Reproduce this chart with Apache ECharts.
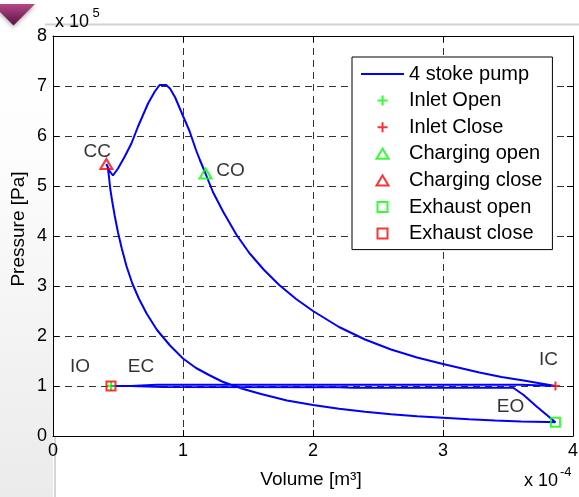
<!DOCTYPE html>
<html>
<head>
<meta charset="utf-8">
<script src="https://cdn.jsdelivr.net/npm/echarts@6/dist/echarts.min.js"></script>
<style>
  html, body { margin: 0; padding: 0; background: #ffffff; }
  #chart { width: 579px; height: 497px; }
</style>
</head>
<body>
<div id="chart"></div>
<script>
// P-V loop of a four-stroke pump.
// Volume in units of 1e-4 m^3, pressure in units of 1e5 Pa.
const xTicks = [0, 1, 2, 3, 4];
const yTicks = [0, 1, 2, 3, 4, 5, 6, 7, 8];

// valve events
const inletOpen     = [0.446, 1.0];
const inletClose    = [3.865, 1.0];
const chargingOpen  = [1.173, 5.25];
const chargingClose = [0.41, 5.44];
const exhaustOpen   = [3.865, 0.274];
const exhaustClose  = [0.446, 1.0];

// strokes of the cycle, in drawing order
const intakeStroke = [inletOpen, [0.6, 1.0], [0.8, 1.025], [3.6, 1.025], inletClose];
const compressionStroke = [
  [3.62, 1.11], [3.45, 1.18], [3.28, 1.27], [3.0, 1.44], [2.8, 1.57],
  [2.6, 1.73], [2.4, 1.93], [2.2, 2.18], [2.0, 2.5], [1.87, 2.74],
  [1.74, 3.02], [1.62, 3.33], [1.51, 3.66], [1.41, 4.03], [1.31, 4.48],
  [1.23, 4.88], chargingOpen
];
const chargingStroke = [
  [1.13, 5.52], [1.10, 5.72], [1.05, 6.1], [1.0, 6.4], [0.94, 6.77],
  [0.9, 6.95], [0.87, 7.02], [0.82, 7.02], [0.783, 6.89], [0.731, 6.65],
  [0.654, 6.19], [0.603, 5.85], [0.552, 5.59], [0.50, 5.35], [0.461, 5.21],
  [0.435, 5.3], chargingClose
];
const expansionStroke = [
  [0.42, 5.39], [0.43, 5.2], [0.44, 4.95], [0.455, 4.7], [0.475, 4.4],
  [0.5, 4.07], [0.53, 3.74], [0.565, 3.4], [0.61, 3.05], [0.66, 2.75],
  [0.72, 2.45], [0.8, 2.12], [0.9, 1.81], [1.0, 1.55], [1.1, 1.36],
  [1.2, 1.22], [1.3, 1.09], [1.45, 0.95], [1.6, 0.84], [1.8, 0.71],
  [2.0, 0.62], [2.2, 0.545], [2.4, 0.485], [2.6, 0.435], [2.8, 0.395],
  [3.0, 0.365], [3.2, 0.335], [3.4, 0.31], [3.6, 0.29], [3.8, 0.278],
  exhaustOpen
];
const exhaustStroke = [
  [3.72, 0.59], [3.62, 0.82], [3.54, 0.965], [2.3, 0.965], [2.2, 0.975],
  [0.85, 0.98], [0.6, 1.0], exhaustClose
];

const legendNames = ['4 stoke pump', 'Inlet Open', 'Inlet Close', 'Charging open',
                     'Charging close', 'Exhaust open', 'Exhaust close'];

const FONT = "'Liberation Sans', Arial, Helvetica, sans-serif";
// marker outlines as paths so the legend keeps their proportions
const PLUS = 'path://M0,5 L10,5 M5,0 L5,10';
const TRIANGLE = 'path://M6,0 L12,10 L0,10 Z';
const SQUARE = 'path://M0,0 L10,0 L10,10 L0,10 Z';
const BAR = 'path://M0,0 L43,0 L43,2 L0,2 Z';
const GREEN = '#00ff00', RED = '#ff0000', BLUE = '#0000ff';

const loop = [].concat(intakeStroke, compressionStroke, chargingStroke,
                       expansionStroke, exhaustStroke);

// name, symbol, colour for each valve event
const events = [
  { name: legendNames[1], point: inletOpen,     symbol: PLUS,     size: 9,        color: GREEN, text: 'IO', offset: [-31, -19] },
  { name: legendNames[2], point: inletClose,    symbol: PLUS,     size: 9,        color: RED,   text: 'IC', offset: [-7, -26] },
  { name: legendNames[3], point: chargingOpen,  symbol: TRIANGLE, size: [12, 10], color: GREEN, text: 'CO', offset: [25, -3] },
  { name: legendNames[4], point: chargingClose, symbol: TRIANGLE, size: [12, 10], color: RED,   text: 'CC', offset: [-9, -12] },
  { name: legendNames[5], point: exhaustOpen,   symbol: SQUARE,   size: 9,        color: GREEN, text: 'EO', offset: [-45, -16] },
  { name: legendNames[6], point: exhaustClose,  symbol: SQUARE,   size: 9,        color: RED,   text: 'EC', offset: [30, -19] }
];

function hollow(color) {
  return { color: 'rgba(0,0,0,0)', borderColor: color, borderWidth: 2 };
}

const eventSeries = events.map(function (e) {
  return {
    name: e.name,
    type: 'scatter',
    data: [e.point],
    symbol: e.symbol,
    symbolSize: e.size,
    itemStyle: hollow(e.color),
    label: {
      show: true, formatter: e.text, position: 'inside', offset: e.offset,
      fontSize: 19, color: '#000', fontFamily: FONT
    },
    emphasis: { disabled: true },
    z: 5
  };
});

const legendData = [{ name: legendNames[0], icon: BAR, itemStyle: { color: BLUE, borderWidth: 0 } }]
  .concat(events.map(function (e) {
    return { name: e.name, icon: e.symbol, itemStyle: hollow(e.color) };
  }));

const chart = echarts.init(document.getElementById('chart'), null, { renderer: 'canvas' });

const axisCommon = {
  type: 'value',
  axisLine: { show: true, onZero: false, lineStyle: { color: '#000', width: 1 } },
  axisTick: { show: true, inside: true, length: 6, lineStyle: { color: '#000', width: 1 } }
};
const dashed = { show: true, lineStyle: { color: '#333', width: 1, type: [7, 5] } };
const tickFont = { fontSize: 18, color: '#000', fontFamily: FONT };

chart.setOption({
  animation: false,
  backgroundColor: '#ffffff',
  grid: { left: 53, right: 6, top: 36, bottom: 61, containLabel: false, outerBoundsMode: 'none' },
  xAxis: [
    Object.assign({}, axisCommon, {
      position: 'bottom', min: xTicks[0], max: xTicks[xTicks.length - 1], interval: 1,
      axisLabel: Object.assign({ margin: 6 }, tickFont),
      splitLine: dashed
    }),
    Object.assign({}, axisCommon, {
      position: 'top', min: xTicks[0], max: xTicks[xTicks.length - 1], interval: 1,
      axisLabel: { show: false }, splitLine: { show: false }
    })
  ],
  yAxis: [
    Object.assign({}, axisCommon, {
      position: 'left', min: yTicks[0], max: yTicks[yTicks.length - 1], interval: 1,
      axisLabel: Object.assign({ margin: 6 }, tickFont),
      splitLine: dashed
    }),
    Object.assign({}, axisCommon, {
      position: 'right', min: yTicks[0], max: yTicks[yTicks.length - 1], interval: 1,
      axisLabel: { show: false }, splitLine: { show: false }
    })
  ],
  legend: {
    data: legendData,
    orient: 'vertical',
    left: 352, top: 57,
    padding: [7, 10, 6, 9],
    itemWidth: 43, itemHeight: 10, itemGap: 6.6,
    symbolKeepAspect: true,
    backgroundColor: '#ffffff',
    borderColor: '#000', borderWidth: 1, borderRadius: 0,
    textStyle: { fontSize: 20, lineHeight: 20, color: '#000', fontFamily: FONT },
    selectedMode: false
  },
  graphic: [
    { type: 'rect', z: -2, silent: true,
      shape: { x: 0, y: 0, width: 53, height: 497 },
      style: { fill: new echarts.graphic.LinearGradient(0, 0, 0, 1, [
        { offset: 0, color: '#ffffff' }, { offset: 0.3, color: '#fdfdfd' }, { offset: 1, color: '#ebebeb' }]) } },
    { type: 'line', z: -1, silent: true,
      shape: { x1: 55, y1: 437, x2: 55, y2: 497 },
      style: { stroke: '#d6d6d6', lineWidth: 2 } },
    { type: 'line', z: -1, silent: true,
      shape: { x1: 45, y1: 24.5, x2: 579, y2: 24.5 },
      style: { stroke: '#d2d2d2', lineWidth: 2 } },
    { type: 'polygon', z: -1, silent: true,
      shape: { points: [[-8, 4], [35, 4], [13.5, 25.5]] },
      style: { fill: new echarts.graphic.LinearGradient(0, 0, 0, 1, [
        { offset: 0, color: '#b24a86' }, { offset: 1, color: '#5e0f42' }]),
        shadowBlur: 4, shadowColor: 'rgba(0,0,0,0.3)', shadowOffsetY: 2 } },
    { type: 'text', silent: true,
      style: { text: 'x 10', x: 55, y: 22.5, align: 'left', verticalAlign: 'middle',
               fontSize: 18, fill: '#000', fontFamily: FONT } },
    { type: 'text', silent: true,
      style: { text: '5', x: 92.5, y: 13, align: 'left', verticalAlign: 'middle',
               fontSize: 13, fill: '#000', fontFamily: FONT } },
    { type: 'text', silent: true,
      style: { text: 'x 10', x: 524, y: 481.5, align: 'left', verticalAlign: 'middle',
               fontSize: 18, fill: '#000', fontFamily: FONT } },
    { type: 'text', silent: true,
      style: { text: '-4', x: 560, y: 472.5, align: 'left', verticalAlign: 'middle',
               fontSize: 13, fill: '#000', fontFamily: FONT } },
    { type: 'text', silent: true,
      style: { text: 'Volume [m³]', x: 311, y: 480, align: 'center', verticalAlign: 'middle',
               fontSize: 19, fill: '#000', fontFamily: FONT } },
    { type: 'text', silent: true, x: 18.5, y: 229, rotation: Math.PI / 2,
      style: { text: 'Pressure [Pa]', x: 0, y: 0, align: 'center', verticalAlign: 'middle',
               fontSize: 19, fill: '#000', fontFamily: FONT } }
  ],
  series: [
    {
      name: legendNames[0],
      type: 'line',
      data: loop,
      symbol: 'none',
      showSymbol: false,
      smooth: false,
      lineStyle: { color: BLUE, width: 2 },
      itemStyle: { color: BLUE },
      emphasis: { disabled: true },
      z: 3
    }
  ].concat(eventSeries)
});
</script>
</body>
</html>
